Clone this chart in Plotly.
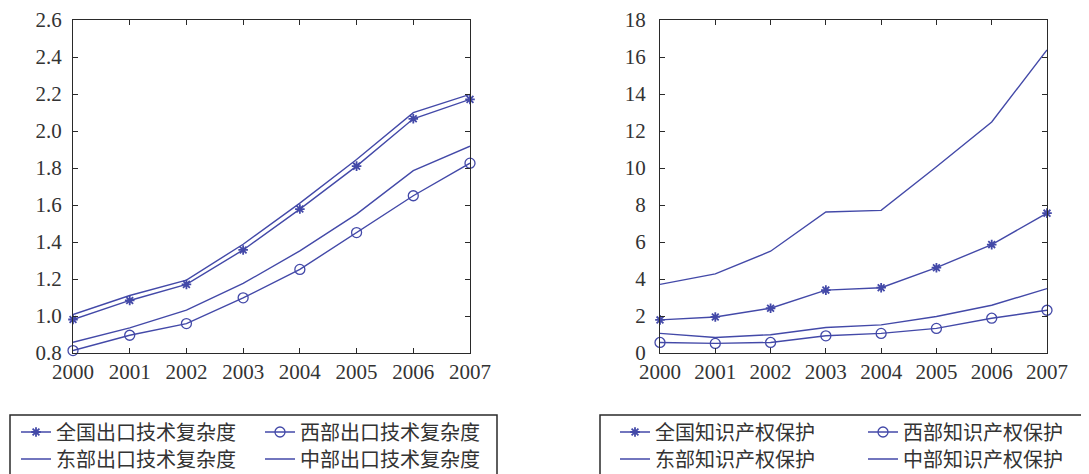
import plotly.graph_objects as go

years = [2000, 2001, 2002, 2003, 2004, 2005, 2006, 2007]

# Left chart: export technical complexity
names_left = ["全国出口技术复杂度", "西部出口技术复杂度", "东部出口技术复杂度", "中部出口技术复杂度"]
nat_exp = [0.981, 1.084, 1.171, 1.357, 1.578, 1.810, 2.066, 2.171]
west_exp = [0.813, 0.896, 0.959, 1.098, 1.252, 1.451, 1.650, 1.826]
east_exp = [1.008, 1.111, 1.194, 1.388, 1.610, 1.846, 2.099, 2.198]
mid_exp = [0.858, 0.936, 1.032, 1.176, 1.352, 1.551, 1.786, 1.918]

# Right chart: intellectual property protection
names_right = ["全国知识产权保护", "西部知识产权保护", "东部知识产权保护", "中部知识产权保护"]
nat_ipr = [1.79, 1.95, 2.42, 3.40, 3.53, 4.61, 5.86, 7.56]
west_ipr = [0.57, 0.52, 0.57, 0.93, 1.06, 1.33, 1.88, 2.31]
east_ipr = [3.71, 4.28, 5.50, 7.62, 7.71, 10.07, 12.49, 16.38]
mid_ipr = [1.06, 0.84, 0.99, 1.38, 1.52, 1.97, 2.58, 3.48]

left_ticks = [0.8, 1.0, 1.2, 1.4, 1.6, 1.8, 2.0, 2.2, 2.4, 2.6]
left_ticktext = ["0.8", "1.0", "1.2", "1.4", "1.6", "1.8", "2.0", "2.2", "2.4", "2.6"]
right_ticks = [0, 2, 4, 6, 8, 10, 12, 14, 16, 18]

W, H = 1089, 474
OFF = 8  # default page body margin
LINE = "#4349a8"
AX = "#2a2a2a"
TICKFONT = dict(family="Liberation Serif, Times New Roman, serif", size=21, color="#333333")
LEGFONT = dict(family="Noto Sans CJK SC", size=20, color="#333333")

fig = go.Figure()

def px_x(x):
    return (x - OFF) / W

def px_y(y):
    return 1 - (y - OFF) / H

series = [
    # (x-axis, y-axis, name, values, symbol, legend id, legend px x, legend px y)
    ("x", "y", names_left[0], nat_exp, "asterisk-open", "legend", 16, 432),
    ("x", "y", names_left[1], west_exp, "circle-open", "legend2", 260, 432),
    ("x", "y", names_left[2], east_exp, None, "legend3", 16, 459),
    ("x", "y", names_left[3], mid_exp, None, "legend4", 260, 459),
    ("x2", "y2", names_right[0], nat_ipr, "asterisk-open", "legend5", 615, 432),
    ("x2", "y2", names_right[1], west_ipr, "circle-open", "legend6", 863, 432),
    ("x2", "y2", names_right[2], east_ipr, None, "legend7", 615, 459),
    ("x2", "y2", names_right[3], mid_ipr, None, "legend8", 863, 459),
]

legend_layouts = {}
for xa, ya, name, vals, sym, leg, lx, ly in series:
    mode = "lines+markers" if sym else "lines"
    if sym == "asterisk-open":
        marker = dict(symbol=sym, size=8, color=LINE, line=dict(color=LINE, width=1.8))
    elif sym:
        marker = dict(symbol=sym, size=10, color=LINE, line=dict(color=LINE, width=1.3))
    else:
        marker = None
    fig.add_trace(go.Scatter(
        x=years, y=vals, name=name, mode=mode, xaxis=xa, yaxis=ya,
        line=dict(color=LINE, width=1.4), marker=marker, legend=leg, showlegend=True,
        cliponaxis=False,
    ))
    legend_layouts[leg] = dict(
        x=px_x(lx), y=px_y(ly), xanchor="left", yanchor="middle",
        bgcolor="rgba(0,0,0,0)", borderwidth=0, font=LEGFONT,
        itemwidth=30, tracegroupgap=0,
    )

y_bot = px_y(353)
y_top = px_y(20)

common_x = dict(
    tickvals=years, ticktext=[str(v) for v in years], ticks="inside", ticklen=5,
    tickcolor=AX, showline=True, linecolor=AX, linewidth=1.3, mirror="ticks",
    showgrid=False, zeroline=False, tickfont=TICKFONT, range=[2000, 2007],
    automargin=False, ticklabelstandoff=0,
)
common_y = dict(
    ticks="inside", ticklen=5, tickcolor=AX, showline=True, linecolor=AX,
    linewidth=1.3, mirror="ticks", showgrid=False, zeroline=False, tickfont=TICKFONT,
    automargin=False,
)

fig.update_layout(
    width=W, height=H,
    margin=dict(l=0, r=0, t=0, b=0),
    paper_bgcolor="white", plot_bgcolor="white",
    xaxis=dict(domain=[px_x(73), px_x(470)], anchor="y", **common_x),
    yaxis=dict(domain=[y_bot, y_top], anchor="x", range=[0.8, 2.6],
               tickvals=left_ticks, ticktext=left_ticktext, ticklabelstandoff=6, **common_y),
    xaxis2=dict(domain=[px_x(660), px_x(1047)], anchor="y2", **common_x),
    yaxis2=dict(domain=[y_bot, y_top], anchor="x2", range=[0, 18],
                tickvals=right_ticks, ticklabelstandoff=9, **common_y),
    **legend_layouts,
    shapes=[
        dict(type="rect", xref="paper", yref="paper", x0=px_x(10), x1=px_x(497),
             y0=-0.2, y1=px_y(415), line=dict(color=AX, width=1.5)),
        dict(type="rect", xref="paper", yref="paper", x0=px_x(600), x1=1.05,
             y0=-0.2, y1=px_y(415), line=dict(color=AX, width=1.5)),
    ],
)

fig.write_html("out.html")
